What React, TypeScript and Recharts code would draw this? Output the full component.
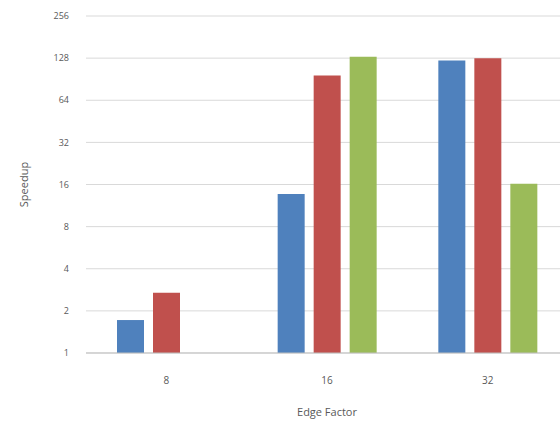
import React from 'react';
import { BarChart, Bar, XAxis, YAxis, CartesianGrid } from 'recharts';

const edgeFactors = ['8', '16', '32'];
const seriesA = [1.72, 13.7, 123];
const seriesB = [2.7, 96, 128];
const seriesC = [null, 131, 16.2];
const yTicks = [1, 2, 4, 8, 16, 32, 64, 128, 256];

const data = edgeFactors.map((ef, i) => ({
  ef,
  a: seriesA[i],
  b: seriesB[i],
  c: seriesC[i],
}));

const font = "'Open Sans', 'Liberation Sans', sans-serif";

export default function App() {
  return (
    <div style={{ position: 'absolute', left: 0, top: 0, width: 560, height: 421, overflow: 'hidden', background: '#fff' }}>
      <BarChart
        width={570}
        height={421}
        data={data}
        margin={{ top: 16, right: 2, left: 0, bottom: 0 }}
        barSize={27}
        barGap={9}
      >
        <CartesianGrid vertical={false} stroke="#d9d9d9" />
        <XAxis
          dataKey="ef"
          height={68}
          tickLine={false}
          tickMargin={18}
          stroke="#bfbfbf"
          tick={{ fill: '#595959', fontSize: 10, fontFamily: font }}
          label={{ value: 'Edge Factor', position: 'insideBottom', offset: 5, fill: '#595959', fontSize: 11, fontFamily: font }}
        />
        <YAxis
          scale="log"
          domain={[1, 256]}
          ticks={yTicks}
          allowDataOverflow
          width={86}
          axisLine={false}
          tickLine={false}
          tickMargin={11}
          tick={{ fill: '#595959', fontSize: 9, fontFamily: font }}
          label={{ value: 'Speedup', angle: -90, position: 'insideLeft', offset: 24, fill: '#595959', fontSize: 11, fontFamily: font, style: { textAnchor: 'middle' } }}
        />
        <Bar dataKey="a" fill="#4f81bd" isAnimationActive={false} />
        <Bar dataKey="b" fill="#c0504d" isAnimationActive={false} />
        <Bar dataKey="c" fill="#9bbb59" isAnimationActive={false} />
      </BarChart>
    </div>
  );
}
